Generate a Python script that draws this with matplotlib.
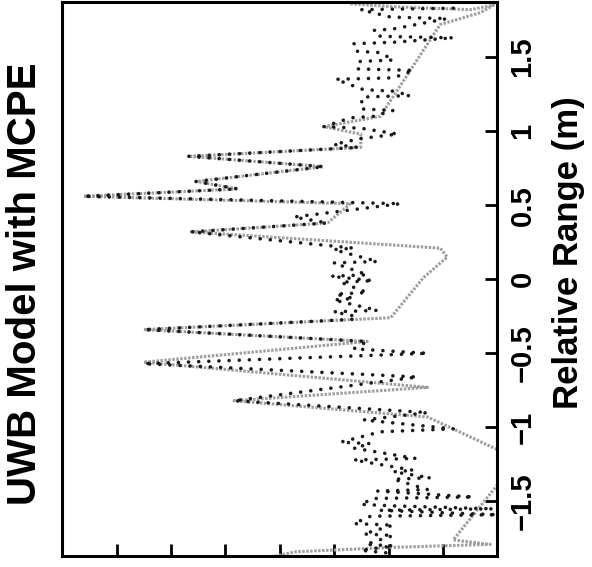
import matplotlib.pyplot as plt

meas_range = [1.83, 1.82, 1.77, 1.76, 1.69, 1.68, 1.64, 1.63, 1.60, 1.59,
              1.54, 1.53, 1.48, 1.47, 1.42, 1.41, 1.36, 1.35, 1.28, 1.27,
              1.24, 1.23, 1.15, 1.14, 1.10, 1.09, 1.03, 1.02, 0.98, 0.95,
              0.91, 0.89, 0.83, 0.76, 0.66, 0.61, 0.56, 0.51, 0.42, 0.38,
              0.32, 0.21, 0.20, 0.12, 0.11, 0.03, 0.02, -0.01, -0.02, -0.09,
              -0.10, -0.13, -0.14, -0.21, -0.22, -0.25, -0.27, -0.34, -0.42, -0.47,
              -0.50, -0.57, -0.66, -0.82, -0.90, -0.95, -1.01, -1.03, -1.10, -1.11,
              -1.14, -1.21, -1.22, -1.29, -1.30, -1.34, -1.35, -1.42, -1.43, -1.47,
              -1.48, -1.52, -1.53, -1.55, -1.56, -1.59, -1.60, -1.65, -1.66, -1.72,
              -1.73, -1.79, -1.80, -1.83, -1.85]
meas_amp = [0.81, 2.51, 1.96, 0.92, 1.91, 2.28, 2.15, 0.81, 1.91, 2.64,
            2.61, 2.15, 1.91, 2.55, 2.57, 1.54, 1.91, 2.97, 2.46, 1.91,
            1.60, 2.48, 2.51, 1.91, 2.28, 2.70, 3.19, 2.51, 1.83, 2.51,
            3.01, 2.55, 5.67, 3.19, 5.54, 4.77, 7.61, 1.78, 3.74, 3.12,
            5.63, 2.64, 3.01, 2.20, 3.01, 2.39, 3.06, 2.28, 2.88, 2.39,
            2.97, 2.64, 3.01, 2.20, 3.01, 2.61, 2.61, 6.50, 2.39, 2.64,
            1.28, 6.50, 1.47, 4.84, 1.28, 2.46, 0.81, 2.15, 2.88, 2.33,
            2.64, 1.50, 2.64, 1.54, 1.91, 1.23, 1.91, 1.28, 2.20, 0.44,
            2.28, 2.51, 1.91, 0.07, 2.15, 0.00, 2.33, 2.64, 1.91, 2.46,
            1.91, 2.42, 1.91, 2.51, 1.96]

# UWB model with MCPE
model_range = [1.86, 1.84, 1.82, 1.85, 1.80, 1.72, 1.10, 1.03, 0.98, 0.89,
               0.83, 0.76, 0.66, 0.61, 0.56, 0.51, 0.38, 0.32, 0.21, 0.15,
               0.01, -0.26, -0.34, -0.42, -0.56, -0.73, -0.82, -0.93, -1.15, -1.30,
               -1.39, -1.76, -1.79, -1.81, -1.84, -1.90]
model_amp = [2.70, 1.91, 0.50, 0.07, 0.31, 1.05, 2.15, 3.19, 2.51, 2.51,
             5.67, 3.19, 5.54, 4.77, 7.61, 2.70, 3.12, 5.63, 1.05, 0.92,
             1.36, 1.96, 6.50, 2.39, 6.50, 1.28, 4.84, 1.28, 0.00, -0.50,
             0.00, 0.81, 0.13, 1.91, 3.71, 4.50]

range_ticks = [-1.5, -1, -0.5, 0, 0.5, 1, 1.5]
range_labels = ['\u22121.5', '\u22121', '\u22120.5', '0', '0.5', '1', '1.5']
amp_ticks = [1, 2, 3, 4, 5, 6, 7]

plt.rcParams['font.family'] = ['Liberation Sans', 'DejaVu Sans']

fig = plt.figure(figsize=(5.92, 5.67), dpi=100)
ax = fig.add_axes([0.105, 0.019, 0.735, 0.977])

# the figure is printed turned on its side: range runs up, amplitude runs left
ax.plot(model_amp, model_range, color='0.62', lw=2.2, ls=(0, (0.8, 0.5)), zorder=2)
ax.plot(meas_amp, meas_range, color='0.1', lw=2.6, ls=(0, (0.01, 2.8)),
        dash_capstyle='round', zorder=3)

ax.set_xlim(8, 0)
ax.set_ylim(-1.87, 1.87)

ax.yaxis.tick_right()
ax.set_yticks(range_ticks)
ax.set_yticklabels(range_labels, rotation=90, fontsize=21, fontweight='bold',
                   va='center')
ax.set_xticks(amp_ticks)
ax.set_xticklabels([])
ax.tick_params(axis='both', direction='in', length=9, width=2)
ax.tick_params(axis='y', pad=8)
for s in ax.spines.values():
    s.set_linewidth(2.2)

fig.text(0.042, 0.5, 'UWB Model with MCPE', rotation=90, ha='center',
         va='center', fontsize=29, fontweight='bold')
fig.text(0.96, 0.555, 'Relative Range (m)', rotation=90, ha='center',
         va='center', fontsize=25, fontweight='bold')

fig.savefig('out.png', dpi=100)
